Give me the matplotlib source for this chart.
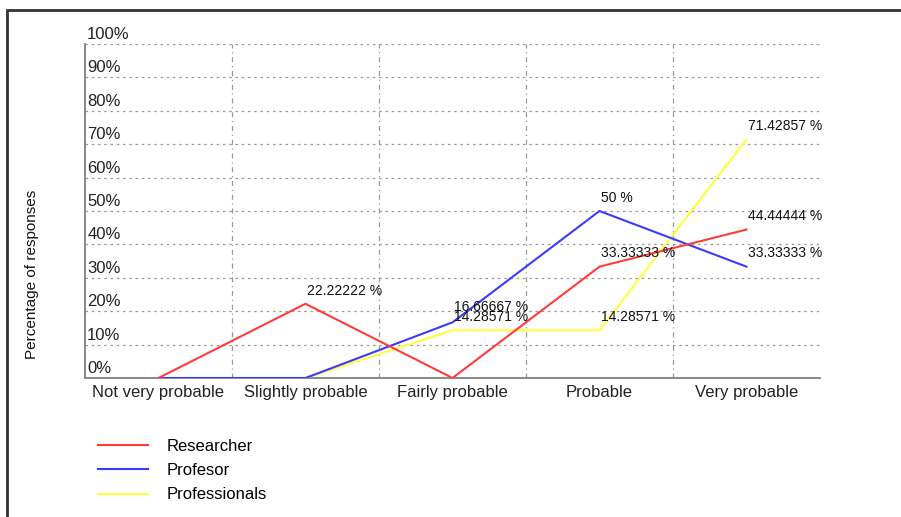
import matplotlib
matplotlib.use("Agg")
import matplotlib.pyplot as plt
from matplotlib.patches import Rectangle
import matplotlib.transforms as mtransforms

plt.rcParams['font.family'] = ['Liberation Sans', 'DejaVu Sans']

categories = ["Not very probable", "Slightly probable", "Fairly probable", "Probable", "Very probable"]
researcher = [0, 22.22222, 0, 33.33333, 44.44444]
profesor = [0, 0, 16.66667, 50, 33.33333]
professionals = [0, 0, 14.28571, 14.28571, 71.42857]
series_names = ["Researcher", "Profesor", "Professionals"]
yticks = [0, 10, 20, 30, 40, 50, 60, 70, 80, 90, 100]
ytick_labels = [f"{v}%" for v in yticks]

# labels shown: (series index, category index)
shown = [(0, 1), (0, 3), (0, 4), (1, 2), (1, 3), (1, 4), (2, 2), (2, 3), (2, 4)]

fig = plt.figure(figsize=(9.01, 5.17), dpi=100)
ax = fig.add_axes([85/901, 1-378/517, (820-85)/901, (378-44)/517])

colors = ["#ff3b3b", "#3b3bff", "#ffff3b"]
data = [researcher, profesor, professionals]
x = list(range(len(categories)))
lines = []
for s, (vals, c, name) in enumerate(zip(data, colors, series_names)):
    ln, = ax.plot(x, vals, color=c, lw=1.5, label=name, zorder=3 + (2 - s) * 0.1)
    lines.append(ln)

for s, ci in shown:
    v = data[s][ci]
    dy = 6 if (s, ci) == (1, 2) else 4.5
    ax.annotate(f"{v} %", (ci, v), xytext=(1, dy), textcoords="offset points",
                ha="left", va="bottom", fontsize=10, color="#111111", zorder=6)

ax.set_xlim(-0.5, 4.5)
ax.set_ylim(0, 100)
ax.set_xticks(x)
ax.set_xticklabels(categories, fontsize=12, color="#222222")
ax.tick_params(axis="x", length=0, pad=5)
ax.set_yticks([])
trans = mtransforms.blended_transform_factory(ax.transAxes, ax.transData)
for v, lab in zip(yticks, ytick_labels):
    ax.text(0.003, v + 0.6, lab, transform=trans,
            ha="left", va="bottom", fontsize=12, color="#222222")
    if v > 0:
        ax.axhline(v, color="#999999", lw=0.9, ls=(0, (2, 3)), zorder=1)
for b in [0.5, 1.5, 2.5, 3.5]:
    ax.plot([b, b], [0, 100], color="#999999", lw=0.9, ls=(0, (4, 3, 1, 3)), zorder=1)

for sp in ["top", "right"]:
    ax.spines[sp].set_visible(False)
for sp in ["left", "bottom"]:
    ax.spines[sp].set_color("#808080")
    ax.spines[sp].set_linewidth(1.3)

fig.text(32/901, 1-274/517, "Percentage of responses", rotation=90, ha="center", va="center",
         fontsize=11, color="#111111")

fig.legend(handles=lines, labels=series_names, loc="upper left",
           bbox_to_anchor=(98/901, 1-439/517), frameon=False, fontsize=12,
           handlelength=3.0, handletextpad=1.1, labelspacing=0.55, borderpad=0,
           borderaxespad=0)

fig.patches.append(Rectangle((7/901, -0.1), 1.2, (517-10)/517 + 0.1, transform=fig.transFigure,
                             fill=False, edgecolor="#333333", lw=2))

fig.savefig("out.png", dpi=100)
